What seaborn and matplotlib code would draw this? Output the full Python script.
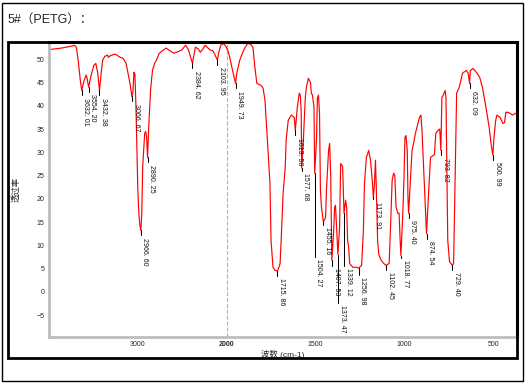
import numpy as np
import matplotlib
matplotlib.use("Agg")
import matplotlib.pyplot as plt
import seaborn as sns
from matplotlib.ticker import FixedLocator
from matplotlib.patches import Rectangle

# spectrum (wavenumber cm-1, transmittance %)
wavenumber = [
    3990, 3860, 3750, 3714, 3692, 3670, 3648, 3632.01, 3604, 3582, 3571, 3554.20,
    3527, 3495, 3473, 3451, 3432.38, 3407, 3396, 3373, 3341, 3330, 3308, 3253,
    3198, 3165, 3132, 3110, 3088, 3066.67, 3055, 3044, 3033, 3022, 3011, 3000,
    2989, 2978, 2966.60, 2956, 2945, 2934, 2923, 2912, 2901, 2890.25, 2879, 2868,
    2857, 2835, 2813, 2791, 2758, 2725, 2681, 2637, 2593, 2549, 2505, 2462,
    2429, 2407, 2384.62, 2363, 2352, 2319, 2297, 2264, 2242, 2209, 2187, 2154,
    2132, 2103.95, 2088, 2066, 2033, 2011, 1994, 1983, 1966, 1949.73, 1943, 1926,
    1909, 1898, 1881, 1864, 1852, 1841, 1830, 1807, 1795, 1784, 1778, 1767,
    1756, 1750, 1739, 1727, 1715.86, 1710, 1699, 1693, 1682, 1670, 1665, 1653,
    1636, 1619, 1613.50, 1602, 1591, 1585, 1580, 1577.68, 1568, 1557, 1551, 1540,
    1528, 1523, 1517, 1508, 1504.27, 1494, 1489, 1483, 1477, 1472, 1466, 1455.16,
    1443, 1438, 1426, 1420, 1414, 1407.53, 1398, 1392, 1387, 1381, 1373.47, 1364,
    1358, 1347, 1339.12, 1330, 1324, 1319, 1313, 1307, 1290, 1270, 1256.98, 1240,
    1230, 1224, 1213, 1200, 1190, 1180, 1173.91, 1168, 1162, 1157, 1150, 1143,
    1130, 1115, 1102.45, 1085, 1078, 1068, 1060, 1053, 1046, 1036, 1029, 1023,
    1018.77, 1008, 1001, 996, 990, 983, 979, 975.40, 968, 956, 944, 937,
    914, 906, 900, 888, 874.54, 862, 852, 830, 822, 810, 800, 793.82,
    788, 780, 770, 765, 760, 755, 745, 729.40, 722, 717, 712, 705,
    690, 672, 650, 640, 632.09, 628, 612, 590, 575, 560, 540, 522,
    510, 500.99, 495, 485, 478, 460, 445, 435, 428, 416, 405, 390, 372,
]
transmittance = [
    52.1, 52.4, 52.8, 53.0, 52.6, 49.5, 45.5, 43.3, 45.5, 46.6, 45.9, 44.0,
    46.5, 48.7, 49.1, 47.0, 43.3, 48.0, 49.8, 50.6, 50.9, 50.4, 50.8, 51.1,
    50.4, 50.2, 49.1, 47.0, 44.8, 42.0, 43.0, 47.2, 46.8, 40.5, 31.0, 22.0,
    17.0, 14.5, 13.2, 16.5, 27.0, 30.4, 34.0, 34.5, 33.2, 28.9, 34.7, 39.0,
    43.3, 47.6, 49.0, 49.8, 51.3, 51.8, 52.4, 51.8, 51.3, 51.6, 52.0, 53.0,
    52.0, 50.5, 49.1, 51.5, 52.6, 52.2, 51.5, 52.3, 53.0, 52.4, 52.0, 51.8,
    51.0, 49.8, 51.5, 53.0, 53.4, 52.8, 52.0, 50.5, 47.5, 44.8, 47.0, 49.8,
    51.5, 52.4, 53.4, 53.2, 52.6, 48.3, 44.8, 44.4, 43.8, 41.2, 37.5, 30.4,
    23.3, 11.1, 5.3, 4.6, 4.5, 4.8, 6.1, 11.1, 21.2, 26.8, 32.6, 36.9,
    38.0, 37.5, 34.7, 39.7, 42.7, 42.3, 38.4, 26.6, 32.6, 41.8, 44.0, 45.9,
    45.0, 42.7, 42.3, 39.7, 25.5, 32.6, 41.6, 42.3, 38.4, 21.9, 18.2, 15.0,
    16.0, 21.9, 30.4, 31.9, 25.0, 6.8, 12.6, 18.2, 18.6, 14.0, 8.0, 14.0,
    27.6, 27.0, 16.9, 19.7, 18.0, 11.1, 9.6, 6.1, 5.3, 5.3, 5.1, 5.7,
    13.2, 23.3, 28.9, 30.4, 28.3, 24.0, 20.3, 23.0, 28.3, 22.0, 11.1, 8.0,
    6.8, 6.1, 5.7, 6.1, 13.2, 24.0, 25.5, 25.0, 18.2, 16.9, 16.9, 11.1,
    7.8, 16.9, 25.0, 33.2, 33.6, 30.4, 20.3, 16.9, 21.9, 30.4, 32.6, 34.1,
    37.5, 38.0, 34.7, 24.0, 12.5, 21.9, 28.9, 29.5, 34.1, 34.7, 35.0, 30.4,
    41.8, 42.3, 43.3, 41.8, 25.5, 11.1, 6.5, 5.7, 6.1, 16.9, 28.9, 42.7,
    44.0, 47.0, 47.6, 47.0, 44.8, 47.6, 48.0, 47.0, 46.1, 44.0, 39.7, 35.4,
    31.5, 29.4, 33.0, 36.9, 38.0, 37.5, 36.2, 36.4, 38.6, 38.6, 38.4, 38.0, 38.4,
]

peak_labels = [
    3632.01, 3554.20, 3432.38, 3066.67, 2966.60, 2890.25, 2384.62, 2103.95,
    1949.73, 1715.86, 1613.50, 1577.68, 1504.27, 1455.16, 1407.53, 1373.47,
    1339.12, 1256.98, 1173.91, 1102.45, 1018.77, 975.40, 874.54, 793.82,
    729.40, 632.09, 500.99,
]

x_ticks = [3000, 2000, 1500, 1000, 500]
y_ticks = [-5, 0, 5, 10, 15, 20, 25, 30, 35, 40, 45, 50]


# x axis is compressed by half above 2000 cm-1
def forward(w):
    w = np.asarray(w, dtype=float)
    return np.where(w > 2000, 2000 + (w - 2000) / 2, w)


def inverse(p):
    p = np.asarray(p, dtype=float)
    return np.where(p > 2000, 2000 + (p - 2000) * 2, p)


sns.set_style("white")
plt.rcParams["font.family"] = ["Liberation Sans", "Noto Sans CJK SC"]

fig = plt.figure(figsize=(5.3, 3.86), dpi=100)
ax = fig.add_axes([0.0925, 0.1269, 0.883, 0.7642])
ax.set_xscale("function", functions=(forward, inverse))

sns.lineplot(x=wavenumber, y=transmittance, sort=False, color="#ff0000",
             linewidth=0.85, ax=ax)

ax.axvline(2000, color="#b4b4b4", linestyle="--", linewidth=0.8, zorder=0)

# peak markers and labels (leader length in pixels)
px_per_unit = 4.65
long_leaders = {1504.27: 84, 1373.47: 48, 1339.12: 53, 1256.98: 7,
                1407.53: 6, 1173.91: 2, 1455.16: 3, 1018.77: 2, 1577.68: 3}
wn_rev = np.array(wavenumber)[::-1]
tr_rev = np.array(transmittance)[::-1]
for pk in peak_labels:
    t = np.interp(pk, wn_rev, tr_rev)
    drop = long_leaders.get(pk, 5) / px_per_unit
    ax.plot([pk, pk], [t, t - drop], color="black", linewidth=0.75)
    label = f"{pk:.2f}".replace(".", ". ")
    ax.annotate(label, xy=(pk, t - drop), xytext=(3, -1.5),
                textcoords="offset points", rotation=270,
                ha="center", va="top", fontsize=5, color="#111111")

ax.set_xlim(4000, 365)
ax.set_ylim(-9.7, 53.7)
ax.set_xticks(x_ticks)
ax.set_xticklabels([str(v) for v in x_ticks])
minor_x = [v for v in list(range(3800, 2000, -200)) + list(range(1900, 350, -100))
           if v not in x_ticks]
ax.xaxis.set_minor_locator(FixedLocator(minor_x))
ax.set_yticks(y_ticks)
ax.yaxis.set_minor_locator(FixedLocator([v + 2.5 for v in y_ticks]))

ax.tick_params(axis="x", which="both", direction="in", length=2, width=1,
               color="black", labelsize=5, pad=3)
ax.tick_params(axis="y", which="both", direction="out", length=2, width=1,
               color="black", labelsize=5, pad=1.5)
for lbl in ax.get_xticklabels():
    if lbl.get_text() == "2000":
        lbl.set_fontweight("bold")

for side in ["left", "bottom"]:
    ax.spines[side].set_color("#bdbdbd")
    ax.spines[side].set_linewidth(2)
for side in ["top", "right"]:
    ax.spines[side].set_color("black")
    ax.spines[side].set_linewidth(2.2)

ax.set_xlabel("波数 (cm-1)", fontsize=6)
ax.xaxis.set_label_coords(0.5, -0.045)
ax.set_ylabel("透过率", fontsize=6)
ax.yaxis.set_label_coords(-0.062, 0.5)

# frame around the plot and outer border
fig.patches.append(Rectangle((8 / 530, 1 - 358 / 386), 509 / 530, 316 / 386,
                             transform=fig.transFigure, fill=False,
                             edgecolor="black", linewidth=2))
fig.patches.append(Rectangle((1.5 / 530, 1 - 381 / 386), 521.5 / 530, 378 / 386,
                             transform=fig.transFigure, fill=False,
                             edgecolor="black", linewidth=1))

fig.text(8 / 530, 1 - 20 / 386, "5#（PETG）：", fontsize=9, ha="left", va="center")

fig.savefig("out.png", dpi=100)
